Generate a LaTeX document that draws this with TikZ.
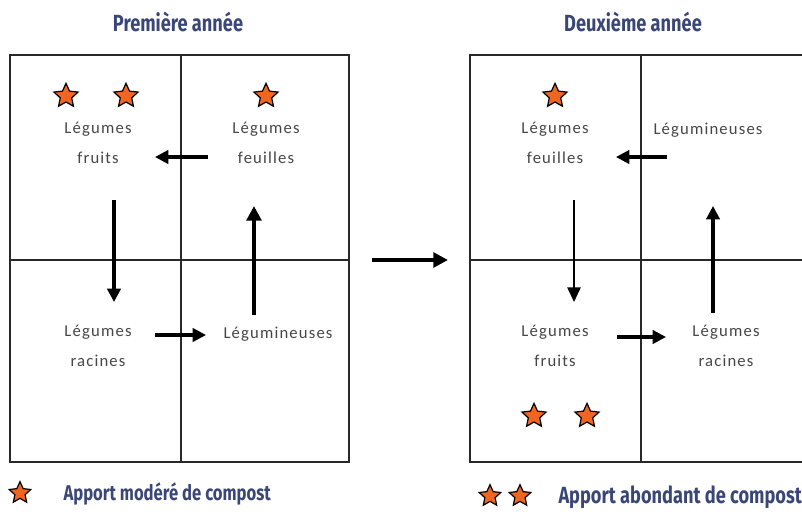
\documentclass[tikz,border=0pt]{standalone}
\usepackage{fontspec}
\setmainfont{Carlito}
\newfontfamily\cellfont[LetterSpace=7]{Carlito}
\newfontfamily\titlefont[FakeStretch=0.78]{Fira Sans}
\usetikzlibrary{arrows.meta,shapes.geometric}
\definecolor{titleblue}{RGB}{58,70,118}
\definecolor{staror}{RGB}{240,102,32}
\definecolor{cellgray}{RGB}{70,70,70}

\tikzset{every picture/.style={line width=0.75pt}}
\tikzset{
  gridline/.style={draw={rgb,255:red,40;green,40;blue,40}, line width=1.1pt},
  celltext/.style={inner sep=0.75pt, align=center, text=cellgray, font=\cellfont\fontsize{12.5}{22.5}\selectfont},
  headtext/.style={inner sep=0.75pt, text=titleblue, font=\titlefont\bfseries\fontsize{16}{18}\selectfont},
  compost/.style={star, star points=5, star point ratio=2.1, minimum size=19pt, inner sep=0pt, fill=staror, draw=black, line width=0.9pt},
  flow/.style={line width=2.3pt, -{Triangle[length=10pt, width=10pt]}},
  thinflow/.style={line width=1.2pt, -{Triangle[length=11pt, width=10pt]}},
  bigflow/.style={line width=3pt, -{Triangle[length=11pt, width=11pt]}}
}

\begin{document}
\begin{tikzpicture}[x=0.75pt,y=0.75pt,yscale=-1,xscale=1]
\useasboundingbox (0,0) rectangle (802,517);

%Grids
\draw [gridline] (10,55) rectangle (349,462);
\draw [gridline] (181,55) -- (181,462);
\draw [gridline] (10,260) -- (349,260);
\draw [gridline] (802,55) -- (470,55) -- (470,462) -- (802,462);
\draw [gridline] (641,55) -- (641,462);
\draw [gridline] (470,260) -- (802,260);

% Text Node
\node [headtext, font=\titlefont\bfseries\fontsize{17.5}{19}\selectfont] (head1) at (178,22) {Première année};
% Text Node
\node [headtext, font=\titlefont\bfseries\fontsize{17.5}{19}\selectfont] (head2) at (633,22) {Deuxième année};

%Premiere annee
\node [compost] (s1) at (66,96) {};
\node [compost] (s2) at (126,96) {};
\node [compost] (s3) at (266,96) {};
\node [celltext] (fruitsA) at (98,143) {Légumes\\fruits};
\node [celltext] (feuillesA) at (266,143) {Légumes\\feuilles};
\node [celltext] (racinesA) at (98,346) {Légumes\\racines};
\node [celltext] (legumiA) at (278,334) {Légumineuses};

%Deuxieme annee
\node [compost] (s4) at (555,96) {};
\node [compost] (s5) at (534,416) {};
\node [compost] (s6) at (587,416) {};
\node [celltext] (feuillesB) at (555,143) {Légumes\\feuilles};
\node [celltext] (legumiB) at (708,130) {Légumineuses};
\node [celltext] (fruitsB) at (555,346) {Légumes\\fruits};
\node [celltext] (racinesB) at (726,346) {Légumes\\racines};

%Arrow ends
\coordinate (a1s) at (208,157); \coordinate (a1e) at (155,157);
\coordinate (a2s) at (114,200); \coordinate (a2e) at (114,302);
\coordinate (a3s) at (254,315); \coordinate (a3e) at (254,206);
\coordinate (a4s) at (155,335); \coordinate (a4e) at (206,335);
\coordinate (ms) at (372,260); \coordinate (me) at (448,260);
\coordinate (b1s) at (667,157); \coordinate (b1e) at (616,157);
\coordinate (b2s) at (574,200); \coordinate (b2e) at (574,302);
\coordinate (b3s) at (713,313); \coordinate (b3e) at (713,206);
\coordinate (b4s) at (617,337); \coordinate (b4e) at (666,337);

%Straight Lines
\draw [flow] (a1s) -- (a1e);
\draw [flow] (a2s) -- (a2e);
\draw [bigflow] (a3s) -- (a3e);
\draw [flow] (a4s) -- (a4e);
\draw [bigflow] (ms) -- (me);
\draw [flow] (b1s) -- (b1e);
\draw [thinflow] (b2s) -- (b2e);
\draw [flow] (b3s) -- (b3e);
\draw [flow] (b4s) -- (b4e);

%Legend
\node [compost, minimum size=17pt] (l1) at (20,493) {};
\node [headtext, anchor=west] (leg1) at (62,494) {Apport modéré de compost};
\node [compost, minimum size=17pt] (l2) at (490,496) {};
\node [compost, minimum size=17pt] (l3) at (520,496) {};
\node [headtext, anchor=west, font=\titlefont\bfseries\fontsize{17.5}{19}\selectfont] (leg2) at (557,497) {Apport abondant de compost};

\end{tikzpicture}
\end{document}
